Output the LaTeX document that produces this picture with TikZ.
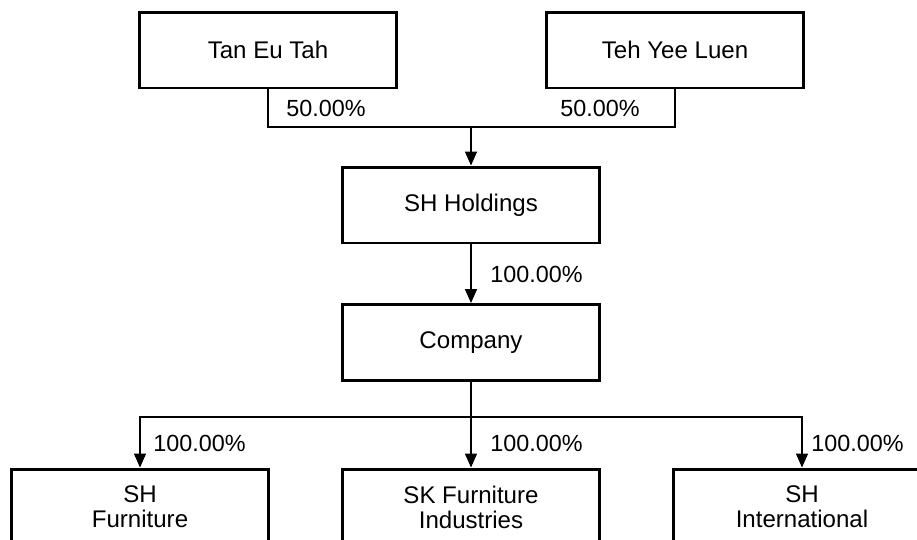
\documentclass[tikz,border=0pt]{standalone}
\usepackage{fontspec}
\setmainfont{Liberation Sans}
\usetikzlibrary{arrows.meta}
\tikzset{
  entity/.style = {draw, line width=1.7pt, minimum width=5.13cm, minimum height=1.52cm,
    align=center, inner sep=0pt, font=\fontsize{13.7}{14.2}\selectfont},
  pct/.style = {font=\fontsize{13.3}{14.2}\selectfont, inner sep=0pt, anchor=west},
  link/.style = {line width=0.85pt},
  own/.style = {link, -{Triangle[length=0.28cm, width=0.24cm]}}
}
\begin{document}
\begin{tikzpicture}[x=0.02cm, y=-0.02cm]
      \useasboundingbox (0,0) rectangle (917,539);
      \node [entity] (tan) at (268,50) {Tan Eu Tah};
      \node [entity] (teh) at (675,50) {Teh Yee Luen};
      \node [entity] (hold) at (471,205) {SH Holdings};
      \node [entity] (comp) at (471,342.5) {Company};
      \node [entity] (shf) at (140,507) {SH\\Furniture};
      \node [entity] (skf) at (471,507) {SK Furniture\\Industries};
      \node [entity] (shi) at (802,507) {SH\\International};
      \coordinate (join) at (471,127);
      \coordinate (split) at (471,417);
      \draw [link] (tan.south) |- (join);
      \draw [link] (teh.south) |- (join);
      \draw [own] (join) -- (hold.north);
      \draw [own] (hold) -- (comp);
      \draw [own] (comp.south) -- (split) -| (shf.north);
      \draw [own] (comp.south) -- (skf.north);
      \draw [own] (split) -| (shi.north);
      \node [pct] (p1) at (286,108) {50.00\%};
      \node [pct] (p2) at (560,108) {50.00\%};
      \node [pct] (p3) at (490,274) {100.00\%};
      \node [pct] (p4) at (153,443) {100.00\%};
      \node [pct] (p5) at (490,443) {100.00\%};
      \node [pct] (p6) at (811,443) {100.00\%};
\end{tikzpicture}
\end{document}
